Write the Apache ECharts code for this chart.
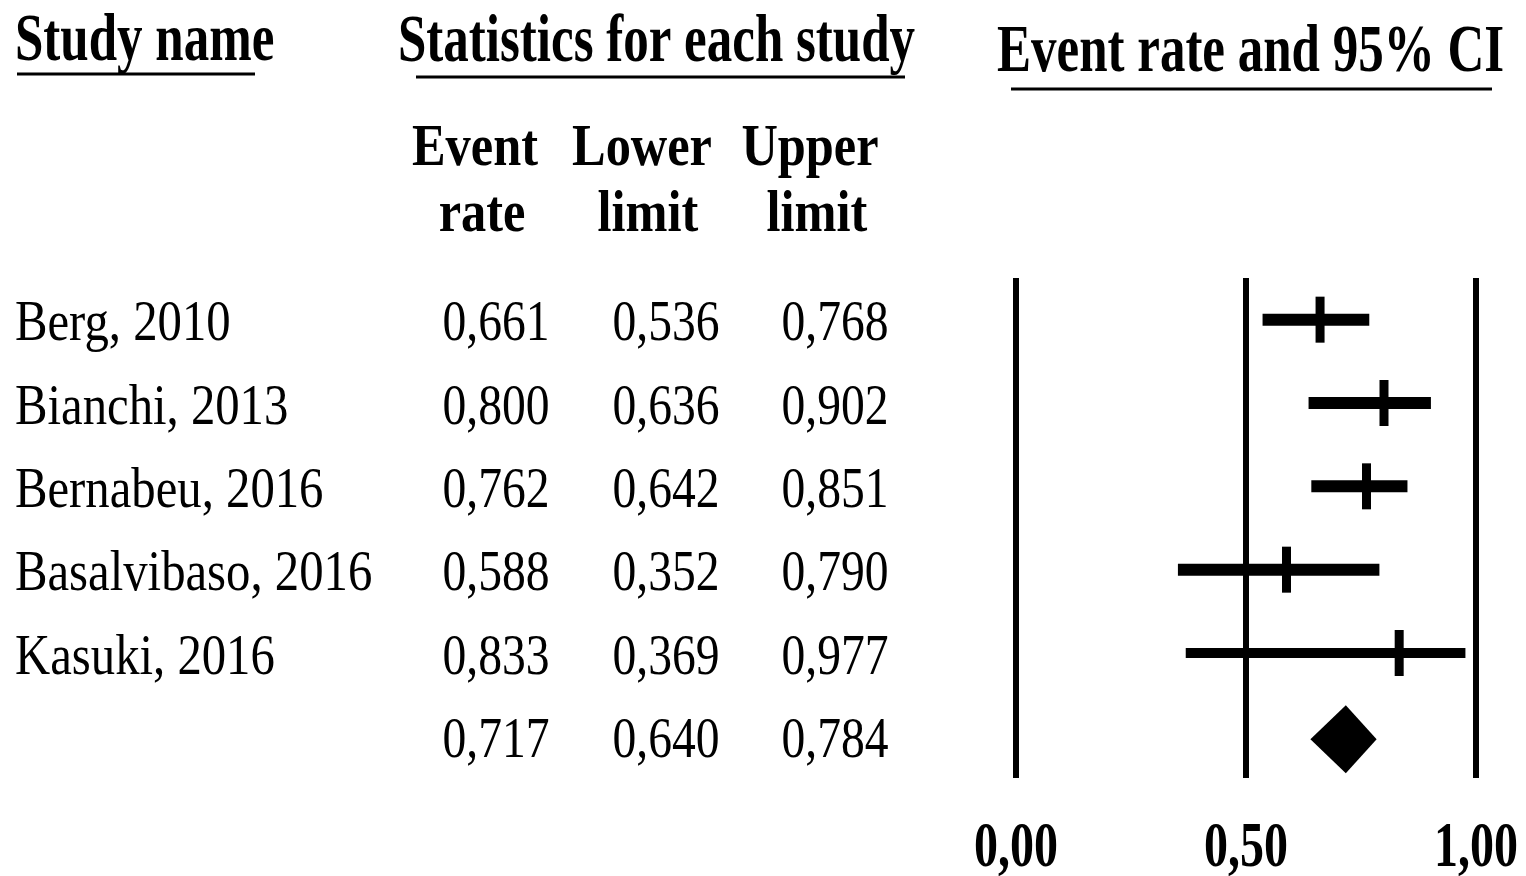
<!DOCTYPE html>
<html>
<head>
<meta charset="utf-8">
<script src="https://cdn.jsdelivr.net/npm/echarts@6/dist/echarts.min.js"></script>
<style>
  html, body { margin: 0; padding: 0; background: #fff; }
  #chart { width: 1526px; height: 876px; }
</style>
</head>
<body>
<div id="chart"></div>
<script>
// Meta-analysis of event rates: one row per study plus the pooled estimate
const studies    = ['Berg, 2010', 'Bianchi, 2013', 'Bernabeu, 2016', 'Basalvibaso, 2016', 'Kasuki, 2016'];
const eventRate  = [0.661, 0.800, 0.762, 0.588, 0.833];
const lowerLimit = [0.536, 0.636, 0.642, 0.352, 0.369];
const upperLimit = [0.768, 0.902, 0.851, 0.790, 0.977];
const pooledRate  = 0.717;
const pooledLower = 0.640;
const pooledUpper = 0.784;
const axisTicks  = [0, 0.5, 1];
const tickLabels = ['0,00', '0,50', '1,00'];

const FONT = '"Liberation Serif", "Times New Roman", serif';
const BOLD_SCALE = 0.75;   // headers are set in a condensed bold face
const NAME_SCALE = 0.87;   // condensed regular face for study names
const NUM_SCALE  = 0.85;   // condensed regular face for the statistics

const fmt = v => v.toFixed(3).replace('.', ',');

const rowKeys = studies.concat(['Pooled']);
const pooledRow = studies.length;

// table rows: [x, rowIndex, name, rate, lower, upper]
const tableRows = studies.map((s, i) => [0, i, s, fmt(eventRate[i]), fmt(lowerLimit[i]), fmt(upperLimit[i])])
  .concat([[0, pooledRow, '', fmt(pooledRate), fmt(pooledLower), fmt(pooledUpper)]]);

function bodyText(x, y, text, align, scale) {
  return {
    type: 'text', x: x, y: y, scaleX: scale,
    style: { text: text, x: 0, y: 0, align: align, verticalAlign: 'middle',
             fontFamily: FONT, fontSize: 56, fill: '#000' }
  };
}

function boldText(x, y, text, size, align, scale) {
  return {
    type: 'text', x: x, y: y, scaleX: scale,
    style: { text: text, x: 0, y: 0, align: align, verticalAlign: 'middle',
             fontFamily: FONT, fontWeight: 'bold', fontSize: size, fill: '#000' }
  };
}

function underline(x1, x2, y) {
  return { type: 'line', shape: { x1: x1, y1: y, x2: x2, y2: y },
           style: { stroke: '#000', lineWidth: 3 } };
}

const chart = echarts.init(document.getElementById('chart'));

chart.setOption({
  backgroundColor: '#fff',
  animation: false,
  grid: { left: 1016, right: 50, top: 278, bottom: 98, containLabel: false },
  xAxis: {
    type: 'value', min: 0, max: 1, interval: 0.5,
    axisLine: { show: false }, axisTick: { show: false }, axisLabel: { show: false },
    splitLine: { show: true, lineStyle: { color: '#000', width: 6 } }
  },
  yAxis: {
    type: 'category', data: rowKeys, inverse: true, show: false,
    splitLine: { show: false }
  },
  graphic: [
    boldText(15, 42, 'Study name', 68, 'left', BOLD_SCALE),
    underline(17, 255, 74),
    boldText(398, 43, 'Statistics for each study', 68, 'left', BOLD_SCALE),
    underline(416, 905, 77),
    boldText(997, 53, 'Event rate and 95% CI', 68, 'left', BOLD_SCALE),
    underline(1011, 1492, 89),
    boldText(475, 149, 'Event', 60, 'center', 0.84),
    boldText(482, 215, 'rate', 60, 'center', 0.84),
    boldText(642, 149, 'Lower', 60, 'center', 0.84),
    boldText(648, 215, 'limit', 60, 'center', 0.84),
    boldText(810, 149, 'Upper', 60, 'center', 0.84),
    boldText(817, 215, 'limit', 60, 'center', 0.84)
  ],
  series: [
    {
      // study names and statistics columns, aligned to each row of the plot
      type: 'custom', clip: false, silent: true,
      data: tableRows,
      encode: { x: 0, y: 1 },
      renderItem: function (params, api) {
        const r = tableRows[params.dataIndex];
        const y = api.coord([0, r[1]])[1] + 6;
        return {
          type: 'group',
          children: [
            bodyText(15, y, r[2], 'left', NAME_SCALE),
            bodyText(496, y, r[3], 'center', NUM_SCALE),
            bodyText(666, y, r[4], 'center', NUM_SCALE),
            bodyText(835, y, r[5], 'center', NUM_SCALE)
          ]
        };
      }
    },
    {
      // confidence interval bars with point estimate ticks
      type: 'custom', clip: false, silent: true,
      data: studies.map((s, i) => [eventRate[i], i, lowerLimit[i], upperLimit[i]]),
      encode: { x: [0, 2, 3], y: 1 },
      renderItem: function (params, api) {
        const row = api.value(1);
        const p = api.coord([api.value(0), row]);
        const xl = api.coord([api.value(2), row])[0];
        const xu = api.coord([api.value(3), row])[0];
        const w = row === 4 ? 10 : 12;
        return {
          type: 'group',
          children: [
            { type: 'line', shape: { x1: xl, y1: p[1], x2: xu, y2: p[1] },
              style: { stroke: '#000', lineWidth: w } },
            { type: 'rect', shape: { x: p[0] - 4.5, y: p[1] - 23, width: 9, height: 46 },
              style: { fill: '#000' } }
          ]
        };
      }
    },
    {
      // pooled estimate diamond
      type: 'custom', clip: false, silent: true,
      data: [[pooledRate, pooledRow, pooledLower, pooledUpper]],
      encode: { x: [0, 2, 3], y: 1 },
      renderItem: function (params, api) {
        const row = api.value(1);
        const c = api.coord([api.value(0), row]);
        const xl = api.coord([api.value(2), row])[0];
        const xu = api.coord([api.value(3), row])[0];
        const cy = c[1] + 3;
        return {
          type: 'polygon',
          shape: { points: [[xl, cy], [c[0], cy - 34], [xu, cy], [c[0], cy + 34]] },
          style: { fill: '#000' }
        };
      }
    },
    {
      // x-axis tick labels placed through the value axis
      type: 'custom', clip: false, silent: true,
      data: axisTicks.map(v => [v, 0]),
      encode: { x: 0, y: 1 },
      renderItem: function (params, api) {
        const x = api.coord([api.value(0), 0])[0];
        return boldText(x, 849, tickLabels[params.dataIndex], 64, 'center', BOLD_SCALE);
      }
    }
  ]
});
</script>
</body>
</html>
